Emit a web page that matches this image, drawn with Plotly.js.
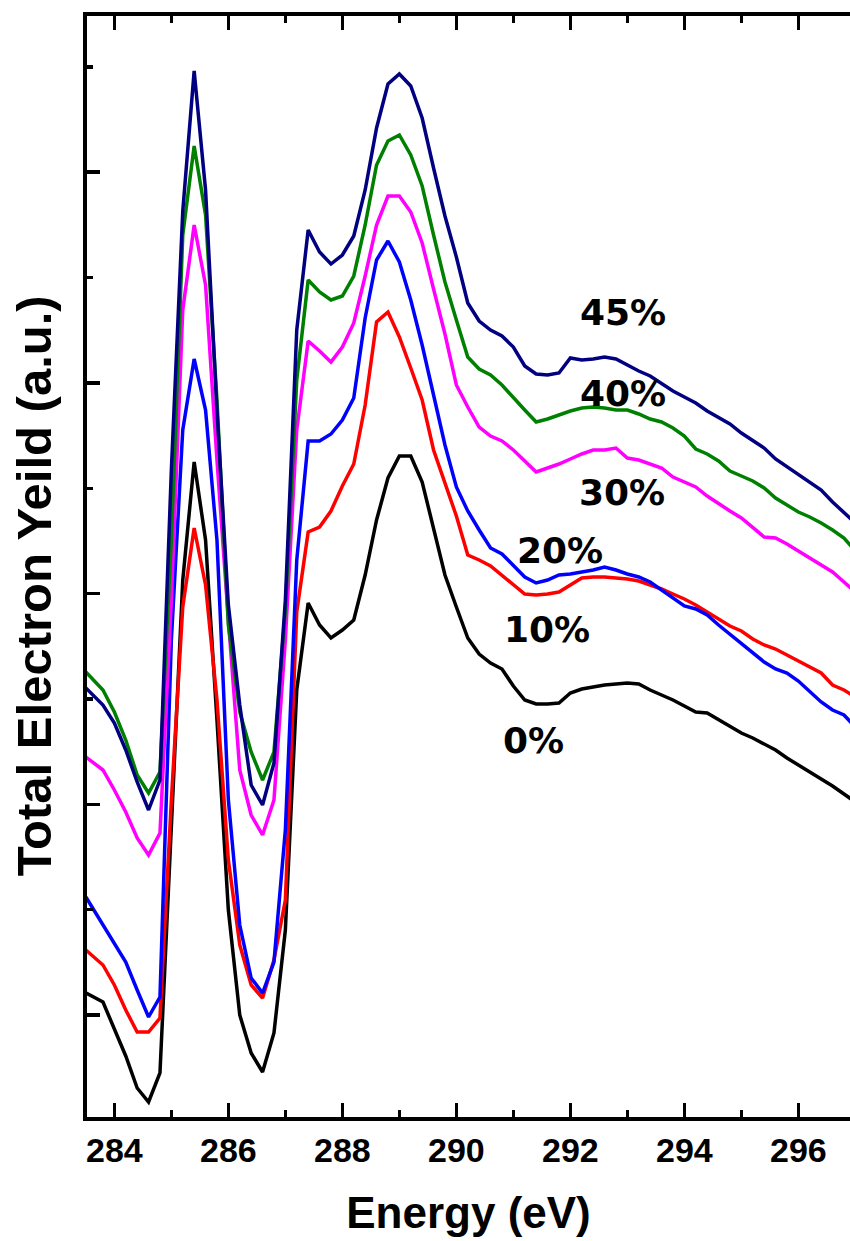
<!DOCTYPE html>
<html>
<head>
<meta charset="utf-8">
<script src="https://cdn.plot.ly/plotly-3.0.1.min.js"></script>
<style>
  html, body { margin: 0; padding: 0; background: #ffffff; }
  #chart { width: 850px; height: 1241px; }
</style>
</head>
<body>
<div id="chart"></div>
<script>
// Photon energy (eV)
const energy = [
  283.5, 283.8, 284.0, 284.2, 284.4, 284.6, 284.8, 285.0, 285.2, 285.4,
  285.6, 285.8, 286.0, 286.2, 286.4, 286.6, 286.8, 287.0, 287.2, 287.4,
  287.6, 287.8, 288.0, 288.2, 288.4, 288.6, 288.8, 289.0, 289.2, 289.4,
  289.6, 289.8, 290.0, 290.2, 290.4, 290.6, 290.8, 291.0, 291.2, 291.4,
  291.6, 291.8, 292.0, 292.2, 292.4, 292.6, 292.8, 293.0, 293.2, 293.4,
  293.6, 293.8, 294.0, 294.2, 294.4, 294.6, 294.8, 295.0, 295.2, 295.4,
  295.6, 295.8, 296.0, 296.2, 296.4, 296.6, 296.8, 297.0
];

// Total electron yield (a.u., stacked), one series per composition
const tey0 = [
  1.27, 1.18, 0.91, 0.64, 0.32, 0.18, 0.47, 2.90, 5.40, 6.58,
  5.80, 4.00, 2.10, 1.05, 0.67, 0.48, 0.87, 1.90, 4.30, 5.17,
  4.95, 4.82, 4.90, 5.00, 5.45, 6.00, 6.42, 6.64, 6.64, 6.38,
  5.90, 5.45, 5.13, 4.82, 4.66, 4.57, 4.51, 4.34, 4.20, 4.16,
  4.16, 4.17, 4.27, 4.31, 4.33, 4.35, 4.36, 4.37, 4.36, 4.30,
  4.25, 4.20, 4.14, 4.08, 4.07, 4.00, 3.93, 3.87, 3.82, 3.76,
  3.70, 3.62, 3.55, 3.49, 3.42, 3.34, 3.26, 3.18
];
const tey10 = [
  1.70, 1.55, 1.35, 1.10, 0.88, 0.88, 1.02, 3.20, 5.13, 5.92,
  5.35, 4.20, 2.60, 1.75, 1.35, 1.22, 1.60, 2.20, 5.08, 5.88,
  5.93, 6.09, 6.34, 6.56, 7.15, 7.98, 8.08, 7.83, 7.52, 7.20,
  6.70, 6.36, 6.04, 5.65, 5.60, 5.54, 5.45, 5.35, 5.26, 5.25,
  5.26, 5.28, 5.35, 5.42, 5.43, 5.43, 5.42, 5.41, 5.39, 5.35,
  5.31, 5.26, 5.21, 5.15, 5.08, 5.01, 4.94, 4.89, 4.81, 4.75,
  4.71, 4.65, 4.59, 4.53, 4.47, 4.35, 4.30, 4.23
];
const tey20 = [
  2.23, 1.95, 1.78, 1.58, 1.30, 1.03, 1.23, 4.80, 6.90, 7.61,
  7.10, 5.80, 3.20, 1.95, 1.42, 1.27, 1.58, 2.90, 5.60, 6.79,
  6.79, 6.86, 7.00, 7.22, 8.02, 8.60, 8.79, 8.58, 8.20, 7.75,
  7.25, 6.75, 6.33, 6.09, 5.90, 5.72, 5.66, 5.54, 5.43, 5.37,
  5.40, 5.45, 5.46, 5.48, 5.50, 5.53, 5.50, 5.46, 5.43, 5.38,
  5.30, 5.22, 5.14, 5.11, 5.05, 4.95, 4.86, 4.77, 4.68, 4.58,
  4.51, 4.47, 4.39, 4.28, 4.18, 4.10, 4.05, 3.93
];
const tey30 = [
  3.63, 3.50, 3.30, 3.08, 2.82, 2.65, 2.87, 5.20, 8.10, 8.95,
  8.35, 6.60, 5.00, 3.50, 3.05, 2.85, 3.20, 4.80, 6.90, 7.79,
  7.69, 7.58, 7.73, 7.97, 8.44, 8.95, 9.24, 9.24, 9.08, 8.77,
  8.31, 7.86, 7.35, 7.13, 6.93, 6.84, 6.79, 6.70, 6.59, 6.48,
  6.52, 6.56, 6.61, 6.66, 6.70, 6.70, 6.72, 6.62, 6.60, 6.56,
  6.52, 6.43, 6.38, 6.33, 6.24, 6.16, 6.09, 6.02, 5.93, 5.83,
  5.82, 5.76, 5.69, 5.62, 5.56, 5.48, 5.38, 5.28
];
const tey40 = [
  4.48, 4.30, 4.08, 3.80, 3.45, 3.27, 3.48, 5.80, 8.85, 9.74,
  9.05, 7.20, 4.95, 4.08, 3.68, 3.40, 3.68, 5.10, 7.40, 8.40,
  8.28, 8.20, 8.24, 8.44, 8.95, 9.55, 9.79, 9.85, 9.65, 9.34,
  8.85, 8.38, 8.00, 7.63, 7.51, 7.45, 7.35, 7.22, 7.10, 6.98,
  7.01, 7.05, 7.09, 7.12, 7.13, 7.12, 7.10, 7.10, 7.06, 7.01,
  6.98, 6.92, 6.84, 6.71, 6.66, 6.59, 6.49, 6.44, 6.39, 6.32,
  6.22, 6.15, 6.08, 6.03, 5.97, 5.90, 5.82, 5.69
];
const tey45 = [
  4.32, 4.15, 3.97, 3.70, 3.38, 3.10, 3.40, 6.50, 9.09, 10.49,
  9.30, 7.10, 5.15, 4.15, 3.35, 3.15, 3.57, 5.20, 7.90, 8.90,
  8.68, 8.56, 8.65, 8.84, 9.30, 9.92, 10.36, 10.46, 10.34, 10.02,
  9.52, 9.04, 8.63, 8.17, 7.99, 7.90, 7.84, 7.73, 7.54, 7.46,
  7.45, 7.47, 7.62, 7.60, 7.61, 7.63, 7.61, 7.55, 7.49, 7.44,
  7.36, 7.29, 7.23, 7.17, 7.09, 7.02, 6.96, 6.87, 6.80, 6.72,
  6.61, 6.53, 6.45, 6.37, 6.30, 6.18, 6.08, 5.97
];

const seriesNames = ['0%', '10%', '20%', '30%', '40%', '45%'];
const seriesValues = [tey0, tey10, tey20, tey30, tey40, tey45];
const seriesColors = ['#000000', '#ff0000', '#0000ff', '#ff00ff', '#008000', '#000080'];

// Where each composition label sits (energy, yield)
const labelX = [291.36, 291.59, 291.82, 292.90, 292.92, 292.92];
const labelY = [3.80, 4.91, 5.70, 6.28, 7.27, 8.08];

const traces = seriesNames.map((name, i) => ({
  type: 'scatter',
  mode: 'lines',
  name: name,
  x: energy,
  y: seriesValues[i],
  line: { color: seriesColors[i], width: 3.5 },
  hoverinfo: 'skip'
}));

const labelFont = { family: 'DejaVu Sans, Verdana, sans-serif', size: 36, weight: 'bold', color: '#000000' };
const axisFont = { family: 'Liberation Sans, Arial, sans-serif', size: 34, weight: 'bold', color: '#000000' };
const xTitleFont = { family: 'Liberation Sans, Arial, sans-serif', size: 44, weight: 'bold', color: '#000000' };
const yTitleFont = { family: 'Liberation Sans, Arial, sans-serif', size: 49, weight: 'bold', color: '#000000' };

const annotations = seriesNames.map((name, i) => ({
  x: labelX[i], y: labelY[i], xref: 'x', yref: 'y',
  text: name, showarrow: false, font: labelFont,
  xanchor: 'center', yanchor: 'middle'
}));

// Vertical axis title, placed as a rotated annotation left of the frame
annotations.push({
  xref: 'paper', yref: 'paper', x: -0.0695, y: 0.483,
  xanchor: 'center', yanchor: 'middle', textangle: -90,
  text: 'Total Electron Yeild (a.u.)', showarrow: false, font: yTitleFont
});

const layout = {
  width: 850,
  height: 1241,
  margin: { l: 87, r: 0, t: 16, b: 124 },
  paper_bgcolor: '#ffffff',
  plot_bgcolor: '#ffffff',
  showlegend: false,
  xaxis: {
    range: [283.52, 296.906],
    tickmode: 'linear', tick0: 284, dtick: 2,
    ticks: 'inside', ticklen: 14, tickwidth: 3.5, tickcolor: '#000000',
    showline: true, linewidth: 4, linecolor: '#000000', mirror: 'ticks',
    showgrid: false, zeroline: false,
    tickfont: axisFont,
    minor: { tickmode: 'linear', tick0: 284, dtick: 1, ticks: 'inside', ticklen: 7, tickwidth: 3.5, tickcolor: '#000000', showgrid: false },
    title: { text: 'Energy (eV)', font: xTitleFont, standoff: 30 }
  },
  yaxis: {
    range: [0.03, 11.04],
    tickmode: 'linear', tick0: 1.05, dtick: 2.107,
    ticks: 'inside', ticklen: 13, tickwidth: 3.5, tickcolor: '#000000',
    showline: true, linewidth: 4, linecolor: '#000000', mirror: false,
    showgrid: false, zeroline: false, showticklabels: false,
    minor: { tickmode: 'linear', tick0: 1.05, dtick: 1.0535, ticks: 'inside', ticklen: 6, tickwidth: 3.5, tickcolor: '#000000', showgrid: false }
  },
  annotations: annotations
};

Plotly.newPlot('chart', traces, layout, { displayModeBar: false, staticPlot: true });
</script>
</body>
</html>
